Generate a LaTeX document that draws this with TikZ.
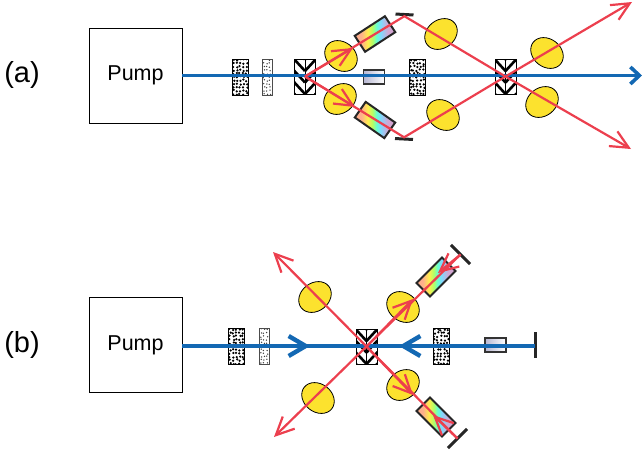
\documentclass[tikz,border=0pt]{standalone}
\usepackage{fontspec}
\setmainfont{Liberation Sans}
\usetikzlibrary{arrows.meta,shapes.geometric}
\definecolor{beamblue}{HTML}{1368B3}
\definecolor{rayred}{HTML}{EC3F4E}
\definecolor{lensyellow}{HTML}{FCE22E}
\pgfdeclarehorizontalshading{crystalrainbow}{100bp}{color(0bp)=(orange!60!red!45); color(33bp)=(orange!60!red!45); color(41bp)=(yellow!80!orange!70); color(47bp)=(green!50!yellow!60); color(52bp)=(cyan!70!green!60); color(57bp)=(cyan!70!blue!50); color(66bp)=(violet!35); color(100bp)=(violet!35)}
\pgfmathsetseed{11}
\begin{document}
\begin{tikzpicture}[x=1pt,y=-1pt,
        pumpbox/.style = {draw, line width=0.8pt, minimum width=93pt, minimum height=95pt, font=\fontsize{21.5}{21.5}\selectfont},
        tag/.style = {font=\fontsize{29}{29}\selectfont},
        lens/.style = {draw, ellipse, fill=lensyellow, line width=0.8pt, minimum width=35pt, minimum height=28pt, inner sep=0pt},
        crystal/.style = {draw=black!85, line width=2pt, shading=crystalrainbow, minimum width=36pt, minimum height=19pt, inner sep=0pt},
        mirror/.style = {fill=black!85, minimum width=18pt, minimum height=3pt, inner sep=0pt},
        atten/.style = {draw=black!80, line width=1.1pt, left color=black!5!blue!25!gray!45, right color=white, minimum width=21pt, minimum height=14pt, inner sep=0pt},
        dotbox/.style = {draw, line width=0.9pt, fill=white, minimum width=16pt, minimum height=36pt, inner sep=0pt, path picture={
            \foreach \i in {-2,...,2} \foreach \j in {-5,...,5} \fill[black, shift={(path picture bounding box.center)}] ({\i*3.3+rand*0.9},{\j*3.4+rand*0.9}) circle (1.25pt);}},
        finebox/.style = {draw=black!70, line width=0.8pt, fill=white, minimum width=10pt, minimum height=36pt, inner sep=0pt, path picture={
            \foreach \i in {-1,...,1} \foreach \j in {-5,...,5} \fill[black!75, shift={(path picture bounding box.center)}] ({\i*3+rand*0.8},{\j*3.4+rand*0.9}) circle (0.75pt);}},
        chevron/.style = {draw, line width=0.9pt, fill=white, minimum width=21pt, minimum height=35pt, inner sep=0pt, path picture={
            \begin{scope}[shift={(path picture bounding box.center)}]
            \foreach \i in {-3,...,2} {
                \draw[line width=2.6pt] (-11,{\i*11.5-6}) -- (0,{\i*11.5+6});
                \draw[line width=2.6pt] (11,{\i*11.5-6}) -- (0,{\i*11.5+6});}
            \draw[line width=0.5pt] (0,-18) -- (0,18);
            \end{scope}}},
        beam/.style = {draw=beamblue, line width=3.6pt},
        ray/.style = {draw=rayred, line width=2.2pt},
        >={Straight Barb[length=18pt,width=17pt]}]
        \useasboundingbox (0,0) rectangle (642,456);

        \node[tag] (taga) at (22,75) {(a)};
        \node[pumpbox] (pumpa) at (135.5,75.5) {Pump};
        \node[dotbox] (dota) at (240,77) {};
        \node[finebox] (finea) at (267,77) {};
        \node[chevron] (chevaleft) at (305,76.5) {};
        \node[atten] (attena) at (374,77) {};
        \node[dotbox] (dotb) at (417,77) {};
        \node[chevron] (chevaright) at (505.5,76.5) {};
        \node[crystal, rotate=33] (crystaltop) at (375,34) {};
        \node[crystal, rotate=-35] (crystalbot) at (375,120) {};
        \node[mirror, rotate=-3] (mirrortop) at (404.5,14.5) {};
        \node[mirror, rotate=-3] (mirrorbot) at (404,139) {};
        \node[lens, rotate=-38] (lensa) at (341,56) {};
        \node[lens, rotate=38] (lensb) at (340,99) {};
        \node[lens, rotate=38] (lensc) at (441,34) {};
        \node[lens, rotate=-38] (lensd) at (443,115) {};
        \node[lens, rotate=-38] (lense) at (547,53) {};
        \node[lens, rotate=38] (lensf) at (542,102) {};
        \coordinate (headtop) at (353,48);
        \coordinate (headbot) at (355,107);
        \coordinate (outtop) at (632,2);
        \coordinate (outbot) at (631,149);
        \coordinate (outblue) at (642,75.5);

        \draw[beam, -{Straight Barb[length=9pt,width=17pt]}] (pumpa.east |- outblue) -- (outblue);
        \draw[ray] (chevaleft.center) -- (mirrortop.south) -- (chevaright.center);
        \draw[ray] (chevaleft.center) -- (mirrorbot.north) -- (chevaright.center);
        \draw[ray, ->] (chevaleft.center) -- (headtop);
        \draw[ray, ->] (chevaleft.center) -- (headbot);
        \draw[ray, ->] (chevaright.center) -- (outtop);
        \draw[ray, ->] (chevaright.center) -- (outbot);

        \node[tag] (tagb) at (22,345) {(b)};
        \node[pumpbox] (pumpb) at (135.5,345) {Pump};
        \node[dotbox] (dotc) at (236.5,346.5) {};
        \node[finebox] (fineb) at (264,346.5) {};
        \node[chevron] (chevb) at (366.5,346.5) {};
        \node[dotbox] (dotd) at (441,346.5) {};
        \node[atten] (attenb) at (495.5,345) {};
        \node[crystal, rotate=45] (crystalup) at (436,277) {};
        \node[crystal, rotate=-45] (crystaldown) at (436,417) {};
        \node[mirror, rotate=-45, minimum width=27pt] (mirrorup) at (460.5,254.5) {};
        \node[mirror, rotate=45, minimum width=27pt] (mirrordown) at (457.5,438.5) {};
        \node[mirror, rotate=90, minimum width=26pt] (mirrorend) at (535,345) {};
        \node[lens, rotate=38] (lensg) at (315,297) {};
        \node[lens, rotate=-38] (lensh) at (318,398) {};
        \node[lens, rotate=-38] (lensi) at (403,307) {};
        \node[lens, rotate=38] (lensj) at (403,385) {};
        \coordinate (headforward) at (310,346);
        \coordinate (headback) at (399,346);
        \coordinate (outupleft) at (273,252);
        \coordinate (outdownleft) at (274,437);
        \coordinate (headup) at (413,299);
        \coordinate (headdown) at (413,395);
        \coordinate (headupend) at (438,273);
        \coordinate (headdownend) at (433,415);

        \draw[beam] (pumpb.east |- headforward) -- (mirrorend.center |- headforward);
        \draw[beam, line width=4.4pt, -{Straight Barb[length=17pt,width=20pt]}] (pumpb.east |- headforward) -- (headforward);
        \draw[beam, line width=4.4pt, -{Straight Barb[length=17pt,width=20pt]}] (dotd.center |- headback) -- (headback);
        \draw[ray] (chevb.center) -- (mirrorup.center);
        \draw[ray] (chevb.center) -- (mirrordown.center);
        \draw[ray, ->] (chevb.center) -- (outupleft);
        \draw[ray, ->] (chevb.center) -- (outdownleft);
        \draw[ray, ->] (chevb.center) -- (headup);
        \draw[ray, ->] (chevb.center) -- (headdown);
        \draw[ray, ->] (mirrorup.center) -- (headupend);
        \draw[ray, ->] (mirrordown.center) -- (headdownend);
    \end{tikzpicture}
\end{document}
